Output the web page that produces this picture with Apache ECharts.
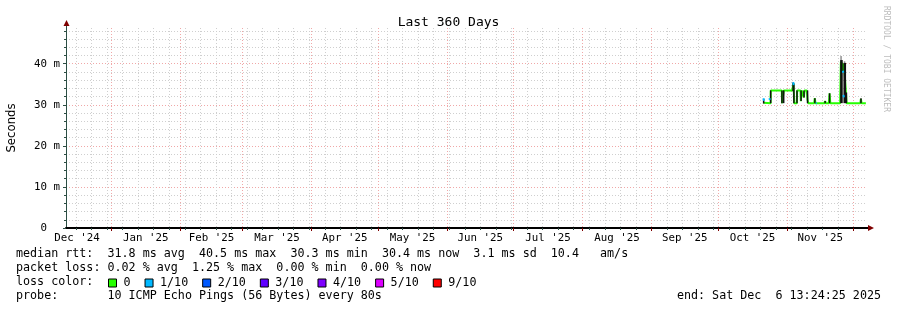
<!DOCTYPE html>
<html><head><meta charset="utf-8">
<script src="https://cdn.jsdelivr.net/npm/echarts@6/dist/echarts.min.js"></script>
<style>html,body{margin:0;padding:0;background:#fff}#c{width:897px;height:310px}</style>
</head><body><div id="c"></div>
<script>
// ---------------- data ----------------
const titleText = 'Last 360 Days';
const rangeStart = '2024-12-11 13:24:25';
const rangeEnd = '2025-12-06 13:24:25';
const firstMonday = '2024-12-16 00:00';
const monthStarts = ['2025-01-01','2025-02-01','2025-03-01','2025-04-01','2025-05-01','2025-06-01',
  '2025-07-01','2025-08-01','2025-09-01','2025-10-01','2025-11-01','2025-12-01'];
const labelMonths = ['2024-12-01','2025-01-01','2025-02-01','2025-03-01','2025-04-01','2025-05-01',
  '2025-06-01','2025-07-01','2025-08-01','2025-09-01','2025-10-01','2025-11-01','2025-12-01'];
const monthLabels = ["Dec '24","Jan '25","Feb '25","Mar '25","Apr '25","May '25",
  "Jun '25","Jul '25","Aug '25","Sep '25","Oct '25","Nov '25"];
const yMax = 48.7;
const yTicks = [0, 10, 20, 30, 40];
const yTickLabels = ['0  ', '10 m', '20 m', '30 m', '40 m'];
const yMinorTicks = [2,4,6,8,12,14,16,18,22,24,26,28,32,34,36,38,42,44,46,48];

// median rtt (ms), coloured by loss class "0"
const medianTimes = ['2025-10-21 12:00','2025-10-24 15:00','2025-10-24 17:00','2025-10-29 16:00','2025-10-29 19:00',
  '2025-10-30 11:00','2025-10-30 14:00','2025-11-03 08:00','2025-11-03 14:00','2025-11-03 22:00','2025-11-04 07:00',
  '2025-11-05 10:00','2025-11-05 14:00','2025-11-07 02:00','2025-11-07 06:00','2025-11-07 14:00','2025-11-08 10:00',
  '2025-11-08 14:00','2025-11-08 22:00','2025-11-09 22:00','2025-11-10 06:00','2025-11-10 14:00','2025-11-13 06:00',
  '2025-11-13 12:00','2025-11-13 20:00','2025-11-17 20:00','2025-11-18 04:00','2025-11-18 12:00','2025-11-19 20:00',
  '2025-11-20 04:00','2025-11-20 12:00','2025-11-24 22:00','2025-11-25 06:00','2025-11-25 20:00','2025-11-26 06:00',
  '2025-11-26 16:00','2025-11-27 06:00','2025-11-27 20:00','2025-12-04 00:00','2025-12-04 06:00','2025-12-04 14:00',
  '2025-12-06 12:00'];
const medianMs = [30.5,30.4,33.5,33.5,30.4,
  30.4,33.5,33.5,33.3,35.2,30.4,
  30.4,33.5,33.5,30.9,33.5,33.5,
  31.8,33.5,33.5,31.2,30.4,30.4,
  31.6,30.4,30.4,30.9,30.4,30.4,
  32.8,30.4,30.4,40.5,40.0,38.0,
  40.0,39.6,30.4,30.4,31.4,30.4,
  30.4];

// median rtt where 1/10 packets were lost (null = gap)
const loss1Times = ['2025-10-21 10:00','2025-10-21 16:00',null,'2025-10-24 02:00','2025-10-24 08:00',null,
  '2025-11-03 20:00','2025-11-04 00:00',null,'2025-11-14 00:00','2025-11-14 10:00',null,
  '2025-11-26 04:00','2025-11-26 08:00',null,'2025-11-26 10:00','2025-11-26 14:00'];
const loss1Ms = [31.6,31.0,null,31.6,31.2,null,35.5,34.8,null,30.4,30.4,null,38.3,37.8,null,32.4,31.8];

// smoke: spread of the individual pings
const smokeStart = ['2025-10-21 10:00','2025-10-24 15:00','2025-10-29 16:00','2025-10-30 11:00','2025-11-03 14:00',
  '2025-11-03 22:00','2025-11-05 10:00','2025-11-07 02:00','2025-11-08 10:00','2025-11-09 22:00','2025-11-13 06:00',
  '2025-11-17 20:00','2025-11-19 20:00','2025-11-24 22:00','2025-11-26 10:00','2025-11-27 14:00','2025-12-04 00:00'];
const smokeEnd = ['2025-10-21 14:00','2025-10-24 17:00','2025-10-29 19:00','2025-10-30 14:00','2025-11-03 22:00',
  '2025-11-04 07:00','2025-11-05 14:00','2025-11-07 14:00','2025-11-08 22:00','2025-11-10 14:00','2025-11-13 20:00',
  '2025-11-18 12:00','2025-11-20 12:00','2025-11-26 02:00','2025-11-27 14:00','2025-11-27 22:00','2025-12-04 14:00'];
const smokeLow = [30.3,30.4,30.4,30.4,33.3,30.4,30.4,30.9,31.8,30.4,30.4,30.4,30.4,30.4,30.4,30.4,30.4];
const smokeHigh = [31.4,33.5,33.5,33.5,35.4,35.2,33.5,33.5,33.5,33.5,31.6,30.9,32.8,40.9,40.2,33.0,31.6];
const lightSmokeStart = ['2025-11-25 02:00','2025-11-26 16:00'];
const lightSmokeEnd = ['2025-11-25 14:00','2025-11-27 04:00'];
const lightSmokeLow = [40.9, 40.2];
const lightSmokeHigh = [41.9, 40.6];

const lossClasses = ['0','1/10','2/10','3/10','4/10','5/10','9/10'];
const lossColors = ['#26ff00','#00b8ff','#0059ff','#5e00ff','#7e00ff','#dd00ff','#ff0000'];

const statsRtt = 'median rtt:  31.8 ms avg  40.5 ms max  30.3 ms min  30.4 ms now  3.1 ms sd  10.4   am/s';
const statsLoss = 'packet loss: 0.02 % avg  1.25 % max  0.00 % min  0.00 % now';
const lossLabel = 'loss color:';
const probeText = 'probe:       10 ICMP Echo Pings (56 Bytes) every 80s';
const endText = 'end: Sat Dec  6 13:24:25 2025';
const watermark = 'RRDTOOL / TOBI OETIKER';
const yName = 'Seconds';

// ---------------- build ----------------
const ts = s => new Date(s.replace(' ', 'T') + (s.length === 10 ? 'T00:00' : '')).getTime();
const xMin = ts(rangeStart), xMax = ts(rangeEnd);
const monthTicks = monthStarts.map(ts);
const labelMs = labelMonths.map(ts);
const monthMids = monthLabels.map((l, i) => (labelMs[i] + labelMs[i + 1]) / 2);
const weekTicks = [];
for (let t = ts(firstMonday); t <= xMax; t += 7 * 86400000) weekTicks.push(t);

const MONO = '"DejaVu Sans Mono", monospace';
const GRID_C = '#cfcfcf', MGRID_C = '#f0a8a8', AXIS_C = '#2C4D43', ARROW_C = '#7F0000';

function smokeRender(color) {
  return function (params, api) {
    const a = api.coord([api.value(0), api.value(3)]);
    const b = api.coord([api.value(1), api.value(2)]);
    let x = a[0], w = b[0] - a[0];
    if (w < 1.5) { x = (a[0] + b[0]) / 2 - 0.75; w = 1.5; }
    return { type: 'rect', shape: { x: x, y: a[1], width: w, height: Math.max(b[1] - a[1], 1) },
      style: { fill: color } };
  };
}

const medianData = medianTimes.map((t, i) => [ts(t), medianMs[i]]);
let lastT = null;
const loss1Data = loss1Times.map((t, i) => {
  if (t === null) return [lastT, null];
  lastT = ts(t); return [lastT, loss1Ms[i]];
});
const smokeData = smokeStart.map((s, i) => [ts(s), ts(smokeEnd[i]), smokeLow[i], smokeHigh[i]]);
const lightSmokeData = lightSmokeStart.map((s, i) => [ts(s), ts(lightSmokeEnd[i]), lightSmokeLow[i], lightSmokeHigh[i]]);

const series = [
  { name: 'smoke-light', type: 'custom', xAxisIndex: 1, yAxisIndex: 1, renderItem: smokeRender('#909090'),
    data: lightSmokeData, encode: { x: [0, 1], y: [2, 3] }, z: 3, silent: true, clip: true },
  { name: 'smoke', type: 'custom', xAxisIndex: 1, yAxisIndex: 1, renderItem: smokeRender('#111'),
    data: smokeData, encode: { x: [0, 1], y: [2, 3] }, z: 4, silent: true, clip: true },
];
lossClasses.forEach((n, i) => {
  const data = i === 0 ? medianData : (i === 1 ? loss1Data : []);
  series.push({ name: n, type: 'line', xAxisIndex: 1, yAxisIndex: 1, data: data, symbol: 'none', showSymbol: false,
    connectNulls: false, lineStyle: { color: lossColors[i], width: 2 }, itemStyle: { color: lossColors[i] },
    z: i === 0 ? 3 : 5, silent: true, animation: false });
});

const chart = echarts.init(document.getElementById('c'), null, { renderer: 'canvas' });
chart.setOption({
  animation: false,
  backgroundColor: '#ffffff',
  title: { text: titleText, left: 'center', top: 11, textStyle: { fontFamily: MONO, fontSize: 13, fontWeight: 'normal', color: '#000' } },
  grid: { left: 66, right: 31, top: 28, bottom: 82, containLabel: false, outerBoundsMode: 'none' },
  xAxis: [
    { type: 'value', min: xMin, max: xMax, position: 'bottom',
      axisLine: { show: false }, axisLabel: { show: false },
      axisTick: { show: true, customValues: weekTicks, length: 2, lineStyle: { color: AXIS_C } },
      splitLine: { show: true, lineStyle: { color: GRID_C, width: 1, type: [1, 2] } } },
    { type: 'value', min: xMin, max: xMax, position: 'bottom',
      axisLine: { show: true, lineStyle: { color: '#000', width: 2 } },
      axisTick: { show: true, customValues: monthTicks, length: 3, lineStyle: { color: ARROW_C } },
      axisLabel: { show: true, customValues: monthMids, margin: 5, color: '#000', fontFamily: MONO, fontSize: 10.8,
        formatter: v => { let k = 0, d = Infinity; monthMids.forEach((m, i) => { if (Math.abs(m - v) < d) { d = Math.abs(m - v); k = i; } }); return monthLabels[k]; } },
      splitLine: { show: true, lineStyle: { color: MGRID_C, width: 1, type: [1, 2] } } }
  ],
  yAxis: [
    { type: 'value', min: 0, max: yMax, position: 'left',
      axisLine: { show: false }, axisLabel: { show: false },
      axisTick: { show: true, customValues: yMinorTicks, length: 2, lineStyle: { color: AXIS_C } },
      splitLine: { show: true, lineStyle: { color: GRID_C, width: 1, type: [1, 2] } } },
    { type: 'value', min: 0, max: yMax, position: 'left',
      name: yName, nameLocation: 'middle', nameGap: 48, nameRotate: 90,
      nameTextStyle: { fontFamily: '"DejaVu Sans", sans-serif', fontSize: 11.7, color: '#000' },
      axisLine: { show: true, lineStyle: { color: AXIS_C, width: 1 } },
      axisTick: { show: true, customValues: yTicks, length: 3, lineStyle: { color: AXIS_C } },
      axisLabel: { show: true, customValues: yTicks, margin: 6, color: '#000', fontFamily: MONO, fontSize: 10.8,
        formatter: v => yTickLabels[yTicks.indexOf(v)] },
      splitLine: { show: true, lineStyle: { color: MGRID_C, width: 1, type: [1, 2] } } }
  ],
  legend: {
    data: lossClasses.map(n => ({ name: n, icon: 'rect' })),
    left: 108, top: 277, padding: 0, itemWidth: 8, itemHeight: 8, itemGap: 14, selectedMode: false,
    itemStyle: { borderColor: '#000', borderWidth: 1 },
    textStyle: { fontFamily: MONO, fontSize: 11.7, color: '#000', padding: [0, 0, 0, 2] }
  },
  graphic: [
    { type: 'text', x: 16, y: 254.3, style: { text: statsRtt, fontFamily: MONO, fontSize: 11.7, fill: '#000', verticalAlign: 'middle' } },
    { type: 'text', x: 16, y: 268.3, style: { text: statsLoss, fontFamily: MONO, fontSize: 11.7, fill: '#000', verticalAlign: 'middle' } },
    { type: 'text', x: 16, y: 282.3, style: { text: lossLabel, fontFamily: MONO, fontSize: 11.7, fill: '#000', verticalAlign: 'middle' } },
    { type: 'text', x: 16, y: 296.3, style: { text: probeText, fontFamily: MONO, fontSize: 11.7, fill: '#000', verticalAlign: 'middle' } },
    { type: 'text', x: 881, y: 296.3, style: { text: endText, fontFamily: MONO, fontSize: 11.7, fill: '#000', align: 'right', verticalAlign: 'middle' } },
    { type: 'text', x: 886, y: 59, rotation: -Math.PI / 2, style: { text: watermark, fontFamily: MONO, fontSize: 8, fill: '#bdbdbd', align: 'center', verticalAlign: 'middle' } },
    { type: 'line', shape: { x1: 66.5, y1: 28, x2: 66.5, y2: 25 }, style: { stroke: AXIS_C, lineWidth: 1 } },
    { type: 'polygon', shape: { points: [[63.5, 26], [69.5, 26], [66.5, 20]] }, style: { fill: ARROW_C } },
    { type: 'line', shape: { x1: 866, y1: 228, x2: 869, y2: 228 }, style: { stroke: '#000', lineWidth: 2 } },
    { type: 'polygon', shape: { points: [[868, 225], [868, 231], [874, 228]] }, style: { fill: ARROW_C } }
  ],
  series: series
});
</script></body></html>
